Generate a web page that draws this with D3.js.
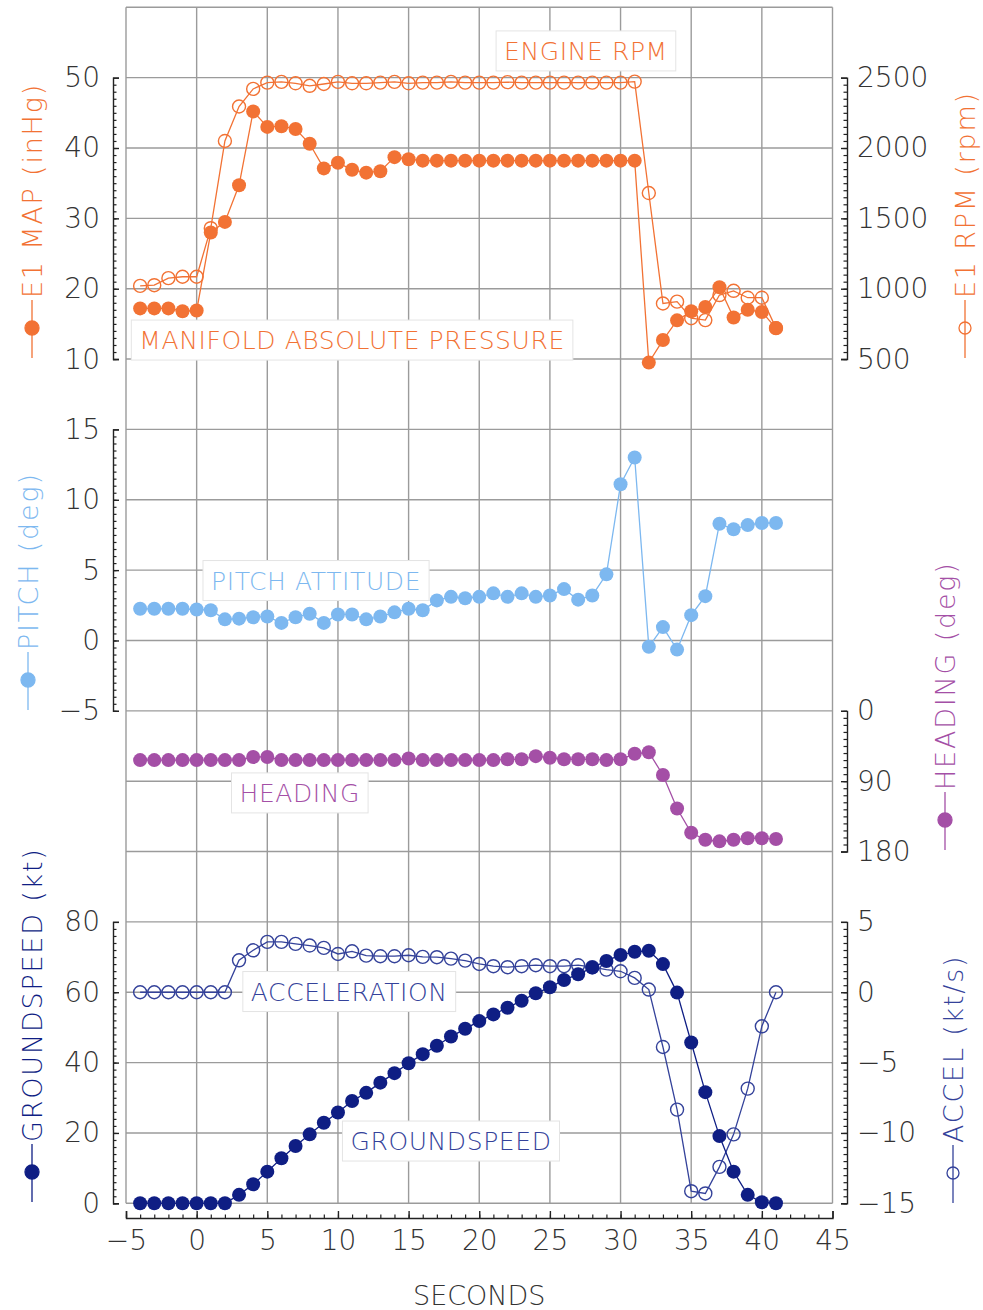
<!DOCTYPE html>
<html><head><meta charset="utf-8">
<script src="https://cdn.jsdelivr.net/npm/d3@7"></script>
<style>
body{margin:0;background:#fff;}
svg{display:block;}
text{font-family:"DejaVu Sans",sans-serif;font-weight:200;}
</style></head><body>
<svg id="c" width="983" height="1310"></svg>
<script>
// ---------------- DATA ----------------
const seconds = [-4,-3,-2,-1,0,1,2,3,4,5,6,7,8,9,10,11,12,13,14,15,16,17,18,19,20,21,22,23,24,25,26,27,28,29,30,31,32,33,34,35,36,37,38,39,40,41];
const mapInHg = [17.2,17.2,17.2,16.8,16.9, 28.0,29.5,34.7,45.2,43.0, 43.1,42.7,40.6,37.1,37.9, 36.9,36.5,36.7,38.7,38.4,
  38.2,38.2,38.2,38.2,38.2,38.2,38.2,38.2,38.2,38.2,38.2,38.2,38.2,38.2,38.2,38.2,
  9.5,12.7,15.5,16.8,17.4, 20.2,15.9,17.0,16.7,14.4];
const rpm = [1020,1025,1075,1085,1085, 1430,2050,2295,2420,2465, 2470,2460,2442,2455,2470, 2460,2460,2465,2470,2460,
  2465,2465,2470,2465,2465,2465,2468,2465,2465,2465,2465,2465,2465,2465,2465,2472,
  1680,895,908,790,777, 955,985,936,936,720];
const pitch = [2.25,2.25,2.25,2.25,2.2, 2.15,1.5,1.55,1.65,1.7, 1.25,1.65,1.9,1.25,1.85, 1.85,1.5,1.7,2.0,2.25,
  2.15,2.85,3.1,3.0,3.1, 3.35,3.1,3.35,3.1,3.2, 3.65,2.9,3.2,4.7,11.1, 13.0,-0.45,0.95,-0.65,1.8,
  3.15,8.3,7.9,8.2,8.35,8.35];
const heading = [63,63,63,63,63,63,63,63, 59,59, 63,63,63,63,63,63,63,63,63, 61, 63,63,63,63,63,63,62,62, 58, 60,
  62,62,62,63,62, 55,53,82,125,156,165,167,165,163,163,164];
const groundspeed = [0,0,0,0,0,0,0, 2.4,5.4,9.0,12.8,16.3,19.6,22.9,25.8,29.1,31.4,34.3,37.0,39.8,42.4,44.8,
  47.4,49.6,51.8,53.7,55.6,57.6,59.7,61.4,63.5,65.1,67.0,68.9,70.6,71.5,71.8,68.0,59.9,45.7,31.6,19.1,9.0,2.4,0.3,0];
const accel = [0,0,0,0,0,0,0, 2.27,2.98,3.58,3.58,3.44,3.32,3.15,2.72,2.91,2.6,2.56,2.56,2.63,2.51,2.49,
  2.39,2.25,2.01,1.85,1.78,1.85,1.92,1.85,1.85,1.92,1.78,1.61,1.49,1.02,0.19,-3.89,-8.34,-14.14,-14.3,-12.41,
  -10.1,-6.85,-2.42,0];

const xTickLabels = [-5,0,5,10,15,20,25,30,35,40,45];
const mapTicks = [10,20,30,40,50];
const rpmTicks = [500,1000,1500,2000,2500];
const pitchTicks = [-5,0,5,10,15];
const headingTicks = [0,90,180];
const gsTicks = [0,20,40,60,80];
const accelTicks = [-15,-10,-5,0,5];

// ---------------- SETUP ----------------
const C = {orange:"#F27234", blue:"#7DB8F0", purple:"#A44FA6", navy:"#0F1E84", accel:"#34429A", grid:"#9b9b9b", tick:"#333"};
const fmt = d3.format('d');
const svg = d3.select('#c');
const x = d3.scaleLinear().domain([-5,45]).range([126,832.5]);
const row = d3.scaleLinear().domain([0,17]).range([7.3,1203.3]);
const yMap = d3.scaleLinear().domain([10,50]).range([row(5),row(1)]);
const yRpm = d3.scaleLinear().domain([500,2500]).range([row(5),row(1)]);
const yPitch = d3.scaleLinear().domain([-5,15]).range([row(10),row(6)]);
const yHdg = d3.scaleLinear().domain([0,180]).range([row(10),row(12)]);
const yGs = d3.scaleLinear().domain([0,80]).range([row(17),row(13)]);
const yAcc = d3.scaleLinear().domain([-15,5]).range([row(17),row(13)]);

// grid
const gGrid = svg.append('g');
gGrid.selectAll('line.h').data(d3.range(0,18)).join('line')
  .attr('x1',x(-5)).attr('x2',x(45)).attr('y1',d=>row(d)).attr('y2',d=>row(d))
  .attr('stroke',C.grid).attr('stroke-width',1.4);
gGrid.selectAll('line.v').data(xTickLabels).join('line')
  .attr('x1',d=>x(d)).attr('x2',d=>x(d)).attr('y1',row(0)).attr('y2',row(17))
  .attr('stroke',C.grid).attr('stroke-width',1.4);

// y axes
function yAxis(scale, side, xpos, majors, minors, pad){
  const mk = side==='left' ? d3.axisLeft : d3.axisRight;
  const g1 = svg.append('g').attr('transform',`translate(${xpos},0)`)
    .call(mk(scale).tickValues(minors).tickSizeInner(-3.5).tickSizeOuter(0).tickFormat(''));
  g1.select('.domain').remove();
  g1.selectAll('line').attr('stroke','#222').attr('stroke-width',1.2);
  const g2 = svg.append('g').attr('transform',`translate(${xpos},0)`)
    .call(mk(scale).tickValues(majors).tickFormat(fmt).tickSizeInner(-6).tickSizeOuter(-6).tickPadding(pad));
  g2.select('.domain').attr('stroke','#222').attr('stroke-width',1.4);
  g2.selectAll('line').attr('stroke','#222').attr('stroke-width',1.4);
  g2.selectAll('text').attr('font-size',28).attr('fill',C.tick).attr('font-family','"DejaVu Sans",sans-serif');
}
yAxis(yMap,'left',113,mapTicks,d3.range(10,50,1),13);
yAxis(yPitch,'left',113,pitchTicks,d3.range(-5,15,0.5),13);
yAxis(yGs,'left',113,gsTicks,d3.range(0,80,2),13);
yAxis(yRpm,'right',847,rpmTicks,d3.range(500,2500,50),10);
yAxis(yHdg,'right',847,headingTicks,d3.range(0,180,9),10);
yAxis(yAcc,'right',847,accelTicks,d3.range(-15,5,0.5),10);

// x axis
{
  const g1 = svg.append('g').attr('transform','translate(0,1218)')
    .call(d3.axisBottom(x).tickValues(d3.range(-5,45,1)).tickSizeInner(-3.5).tickSizeOuter(0).tickFormat(''));
  g1.select('.domain').remove();
  g1.selectAll('line').attr('stroke','#222').attr('stroke-width',1.2);
  const g2 = svg.append('g').attr('transform','translate(0,1218)')
    .call(d3.axisBottom(x).tickValues(xTickLabels).tickFormat(fmt).tickSizeInner(-7).tickSizeOuter(-7).tickPadding(12));
  g2.select('.domain').attr('stroke','#222').attr('stroke-width',1.4);
  g2.selectAll('line').attr('stroke','#222').attr('stroke-width',1.4);
  g2.selectAll('text').attr('font-size',28).attr('fill',C.tick).attr('font-family','"DejaVu Sans",sans-serif');
  svg.append('text').attr('x',x(20)).attr('y',1295).attr('dy','0.36em').attr('text-anchor','middle')
    .attr('font-size',27).attr('fill',C.tick).text('SECONDS');
}

// axis titles with legend symbols
function axisTitle(cx, yb, label, color, filled){
  const g = svg.append('g').attr('transform',`translate(${cx},${yb}) rotate(-90)`);
  g.append('line').attr('x1',0).attr('x2',58).attr('stroke',color).attr('stroke-width',1.3);
  g.append('circle').attr('cx',30).attr('cy',0).attr('r',filled?7:6)
    .attr('fill',filled?color:'none').attr('stroke',color).attr('stroke-width',1.3);
  g.append('text').attr('x',60).attr('dy','0.36em').attr('font-size',27).attr('letter-spacing',1.8)
    .attr('fill',color).text(label);
}
axisTitle(32,358,'E1 MAP (inHg)',C.orange,true);
axisTitle(28,710,'PITCH (deg)',C.blue,true);
axisTitle(32,1202,'GROUNDSPEED (kt)',C.navy,true);
axisTitle(965,358,'E1 RPM (rpm)',C.orange,false);
axisTitle(945,850,'HEADING (deg)',C.purple,true);
axisTitle(953,1203,'ACCEL (kt/s)',C.accel,false);

// labels with boxes (anchored in data coordinates)
const labels = [
  {text:'ENGINE RPM', t:27.55, v:2690, s:yRpm, color:C.orange},
  {text:'MANIFOLD ABSOLUTE PRESSURE', t:11.0, v:12.7, s:yMap, color:C.orange},
  {text:'PITCH ATTITUDE', t:8.45, v:4.26, s:yPitch, color:C.blue},
  {text:'HEADING', t:7.3, v:105, s:yHdg, color:C.purple},
  {text:'ACCELERATION', t:10.8, v:0.05, s:yAcc, color:C.accel},
  {text:'GROUNDSPEED', t:18.0, v:17.7, s:yGs, color:C.accel}
];
labels.forEach(l=>{
  const g = svg.append('g');
  const rect = g.append('rect');
  const tx = g.append('text').attr('x',x(l.t)).attr('y',l.s(l.v)).attr('dy','0.36em')
    .attr('text-anchor','middle').attr('font-size',25).attr('letter-spacing',0.6)
    .attr('fill',l.color).text(l.text);
  const bb = tx.node().getBBox();
  rect.attr('x',bb.x-8).attr('y',l.s(l.v)-20).attr('width',bb.width+16).attr('height',40)
    .attr('fill','#fff').attr('stroke','#e4e4e4').attr('stroke-width',1);
});

// series
function series(vals, yScale, color, filled, r){
  const pts = seconds.map((t,i)=>[t,vals[i]]);
  const g = svg.append('g');
  g.append('path').datum(pts).attr('d',d3.line().x(d=>x(d[0])).y(d=>yScale(d[1])))
    .attr('fill','none').attr('stroke',color).attr('stroke-width',1.3);
  g.selectAll('circle').data(pts).join('circle')
    .attr('cx',d=>x(d[0])).attr('cy',d=>yScale(d[1])).attr('r',r)
    .attr('fill',filled?color:'none').attr('stroke',color).attr('stroke-width',filled?0:1.4);
}
series(rpm,yRpm,C.orange,false,6.5);
series(mapInHg,yMap,C.orange,true,7);
series(pitch,yPitch,C.blue,true,7);
series(heading,yHdg,C.purple,true,7);
series(accel,yAcc,C.accel,false,6.5);
series(groundspeed,yGs,C.navy,true,7);
</script>
</body></html>
